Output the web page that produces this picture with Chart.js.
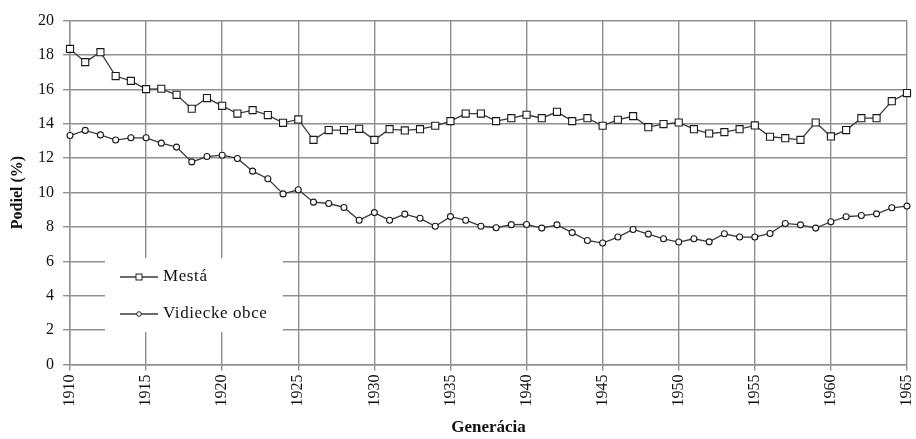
<!DOCTYPE html>
<html>
<head>
<meta charset="utf-8">
<script src="https://cdn.jsdelivr.net/npm/chart.js@4.4.1/dist/chart.umd.min.js"></script>
<style>
html,body{margin:0;padding:0;background:#fff;}
#wrap{width:916px;height:439px;position:relative;}
</style>
</head>
<body>
<div id="wrap"><canvas id="c" width="916" height="439"></canvas></div>
<script>
const years = [1910,1911,1912,1913,1914,1915,1916,1917,1918,1919,
  1920,1921,1922,1923,1924,1925,1926,1927,1928,1929,
  1930,1931,1932,1933,1934,1935,1936,1937,1938,1939,
  1940,1941,1942,1943,1944,1945,1946,1947,1948,1949,
  1950,1951,1952,1953,1954,1955,1956,1957,1958,1959,
  1960,1961,1962,1963,1964,1965];

const mesta = [18.35,17.58,18.16,16.77,16.49,16.01,16.03,15.68,14.87,15.49,
  15.04,14.59,14.79,14.50,14.05,14.25,13.06,13.63,13.63,13.70,
  13.06,13.68,13.61,13.68,13.88,14.15,14.59,14.59,14.15,14.32,
  14.52,14.32,14.69,14.15,14.32,13.88,14.23,14.44,13.80,13.98,
  14.07,13.68,13.43,13.51,13.68,13.90,13.24,13.16,13.06,14.07,
  13.26,13.63,14.32,14.32,15.31,15.78];

const vidiecke = [13.31,13.61,13.35,13.05,13.18,13.18,12.87,12.64,11.78,12.09,
  12.17,11.98,11.24,10.80,9.92,10.16,9.44,9.36,9.13,8.39,
  8.83,8.39,8.74,8.50,8.04,8.60,8.39,8.04,7.95,8.13,
  8.14,7.93,8.12,7.67,7.21,7.06,7.41,7.85,7.58,7.31,
  7.12,7.31,7.13,7.60,7.41,7.41,7.62,8.20,8.12,7.93,
  8.30,8.59,8.66,8.76,9.11,9.21];

const seriesNames = ['Mestá', 'Vidiecke obce'];
const xTitle = 'Generácia';
const yTitle = 'Podiel (%)';

const FONT = "'Liberation Serif', 'Times New Roman', serif";
const GRID = '#8f8f8f';
const LINE = '#3a3a3a';

function toPoints(vals){ return years.map((y,i)=>({x:y, y:vals[i]})); }

const legendPlugin = {
  id: 'boxLegend',
  afterDatasetsDraw(chart){
    const ctx = chart.ctx;
    ctx.save();
    ctx.fillStyle = '#fff';
    ctx.fillRect(105, 258, 178, 74);
    const rows = [277, 314];
    chart.data.datasets.forEach((ds, i) => {
      const y = rows[i];
      ctx.strokeStyle = LINE;
      ctx.lineWidth = 1.3;
      ctx.beginPath();
      ctx.moveTo(120, y); ctx.lineTo(158, y);
      ctx.stroke();
      ctx.fillStyle = '#fff';
      ctx.strokeStyle = '#222';
      ctx.lineWidth = 1;
      if (ds.pointStyle === 'rect') {
        ctx.fillRect(136, y-3, 6, 6);
        ctx.strokeRect(136, y-3, 6, 6);
      } else {
        ctx.beginPath(); ctx.arc(139, y, 2.3, 0, Math.PI*2); ctx.fill(); ctx.stroke();
      }
      ctx.fillStyle = '#111';
      ctx.font = '17px ' + FONT;
      ctx.textBaseline = 'middle';
      ctx.textAlign = 'left';
      try { ctx.letterSpacing = '0.6px'; } catch(e){}
      ctx.fillText(ds.label, 163, y);
    });
    ctx.restore();
  }
};

new Chart(document.getElementById('c'), {
  type: 'line',
  data: {
    datasets: [
      {
        label: seriesNames[0],
        data: toPoints(mesta),
        borderColor: LINE,
        borderWidth: 1.3,
        pointStyle: 'rect',
        pointRadius: 5,
        pointBackgroundColor: '#fff',
        pointBorderColor: '#1a1a1a',
        pointBorderWidth: 1.1,
        tension: 0,
        clip: false
      },
      {
        label: seriesNames[1],
        data: toPoints(vidiecke),
        borderColor: LINE,
        borderWidth: 1.3,
        pointStyle: 'circle',
        pointRadius: 3,
        pointBackgroundColor: '#fff',
        pointBorderColor: '#1a1a1a',
        pointBorderWidth: 1.1,
        tension: 0,
        clip: false
      }
    ]
  },
  options: {
    responsive: false,
    animation: false,
    devicePixelRatio: 1,
    layout: { padding: { left: 0, top: 20.5, right: 9, bottom: 0 } },
    plugins: { legend: { display: false }, tooltip: { enabled: false } },
    scales: {
      x: {
        type: 'linear',
        min: 1910, max: 1965,
        afterFit(s){ s.height = 74.5; s.paddingRight = 0; s.paddingLeft = 0; },
        grid: { color: GRID, lineWidth: 1.4, tickLength: 6, drawTicks: true },
        border: { color: GRID, width: 1.4 },
        ticks: {
          stepSize: 5,
          minRotation: 90, maxRotation: 90,
          padding: 4,
          color: '#111',
          font: { family: FONT, size: 16 },
          callback: v => String(v)
        },
        title: {
          display: true, text: xTitle, color: '#111',
          font: { family: FONT, size: 17, weight: 'bold' },
          padding: { top: 0, bottom: 1 }
        }
      },
      y: {
        min: 0, max: 20,
        afterFit(s){ s.width = 70; s.paddingTop = 0; s.paddingBottom = 0; },
        grid: { color: GRID, lineWidth: 1.4, tickLength: 7, drawTicks: true },
        border: { color: GRID, width: 1.4 },
        ticks: {
          stepSize: 2,
          padding: 9,
          color: '#111',
          font: { family: FONT, size: 16 }
        },
        title: {
          display: true, text: yTitle, color: '#111',
          font: { family: FONT, size: 16, weight: 'bold' },
          padding: { top: 8, bottom: 0 }
        }
      }
    }
  },
  plugins: [legendPlugin]
});
</script>
</body>
</html>
